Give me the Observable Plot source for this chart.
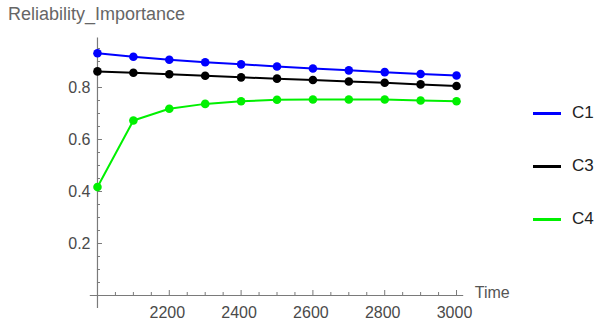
<!DOCTYPE html>
<html>
<head>
<meta charset="utf-8">
<script src="https://cdn.jsdelivr.net/npm/d3@7"></script>
<script src="https://cdn.jsdelivr.net/npm/@observablehq/plot@0.6"></script>
<style>
  html, body { margin: 0; padding: 0; background: #fff; }
  #wrap { position: relative; width: 595px; height: 322px; font-family: "Liberation Sans", Arial, sans-serif; }
  #title { position: absolute; left: 8px; top: 4px; font-size: 18px; color: #666; white-space: nowrap; }
  .leg { position: absolute; left: 533px; width: 62px; height: 20px; }
  .leg .sw { position: absolute; left: 0; top: 9px; width: 28px; height: 2.5px; }
  .leg .lb { position: absolute; left: 39px; top: 0; font-size: 17px; line-height: 20px; color: #222; }
</style>
</head>
<body>
<div id="wrap">
  <div id="chart"></div>
  <div id="title">Reliability_Importance</div>
</div>
<script>
const times = [2000, 2100, 2200, 2300, 2400, 2500, 2600, 2700, 2800, 2900, 3000];
const c1 = [0.932, 0.918, 0.907, 0.897, 0.889, 0.881, 0.873, 0.866, 0.859, 0.852, 0.846];
const c3 = [0.862, 0.857, 0.851, 0.845, 0.839, 0.834, 0.829, 0.823, 0.818, 0.812, 0.806];
const c4 = [0.417, 0.673, 0.718, 0.737, 0.747, 0.753, 0.754, 0.754, 0.754, 0.750, 0.747];
const seriesNames = ["C1", "C3", "C4"];
const seriesColors = ["#0000ff", "#000000", "#00f000"];
const xTickLabels = [2200, 2400, 2600, 2800, 3000];
const yTickLabels = [0.2, 0.4, 0.6, 0.8];
const xMinorTicks = d3.range(2050, 3001, 50);
const yMinorTicks = d3.range(1, 20).map(i => +(i * 0.05).toFixed(2));
const xAxisLabel = "Time";

const seriesValues = [c1, c3, c4];
const data = [];
seriesNames.forEach((s, k) => times.forEach((t, i) => data.push({series: s, t, v: seriesValues[k][i]})));

const W = 595, H = 322;
const mL = 89.8, mR = 131.8, mT = 37.6, mB = 14;
const xDom = [1980, 3020], yDom = [-0.05, 0.99];
const pxPerY = (H - mT - mB) / (yDom[1] - yDom[0]);
const pxPerX = (W - mL - mR) / (xDom[1] - xDom[0]);
const isMajorX = t => t % 200 === 0;
const isMajorY = v => Math.abs(v / 0.2 - Math.round(v / 0.2)) < 1e-6;
const axisColor = "#7a7a7a";
const labelColor = "#4a4a4a";

const chart = Plot.plot({
  width: W, height: H,
  marginLeft: mL, marginRight: mR, marginTop: mT, marginBottom: mB,
  x: {domain: xDom, axis: null},
  y: {domain: yDom, axis: null},
  color: {domain: seriesNames, range: seriesColors},
  style: {fontFamily: "'Liberation Sans', Arial, sans-serif", background: "transparent"},
  marks: [
    Plot.ruleY([0], {x1: xDom[0], x2: xDom[1], stroke: axisColor, strokeWidth: 1.2}),
    Plot.ruleX([times[0]], {y1: yDom[0], y2: yDom[1], stroke: axisColor, strokeWidth: 1.2}),
    Plot.ruleX(xMinorTicks, {x: d => d, y1: 0, y2: d => (isMajorX(d) ? 5 : 3) / pxPerY, stroke: axisColor, strokeWidth: 1}),
    Plot.ruleY(yMinorTicks, {y: d => d, x1: times[0], x2: d => times[0] + (isMajorY(d) ? 5 : 3) / pxPerX, stroke: axisColor, strokeWidth: 1}),
    Plot.text(xTickLabels, {x: d => d, y: 0, text: d => String(d), dy: 17.5, dx: -2, fontSize: 16, fill: labelColor, textAnchor: "middle"}),
    Plot.text(yTickLabels, {x: times[0], y: d => d, text: d => d.toFixed(1), dx: -7, fontSize: 16, fill: labelColor, textAnchor: "end"}),
    Plot.text([xAxisLabel], {x: xDom[1], y: 0, text: d => d, dx: 11, dy: -3, fontSize: 16, fill: "#555", textAnchor: "start"}),
    Plot.line(data, {x: "t", y: "v", z: "series", stroke: "series", strokeWidth: 2}),
    Plot.dot(data, {x: "t", y: "v", fill: "series", r: 4.3})
  ]
});
document.getElementById("chart").appendChild(chart);

const legTops = [103.3, 156, 209.3];
const wrap = document.getElementById("wrap");
seriesNames.forEach((s, i) => {
  const d = document.createElement("div");
  d.className = "leg";
  d.style.top = legTops[i] + "px";
  d.innerHTML = `<div class="sw" style="background:${seriesColors[i]}"></div><div class="lb">${s}</div>`;
  wrap.appendChild(d);
});
</script>
</body>
</html>
